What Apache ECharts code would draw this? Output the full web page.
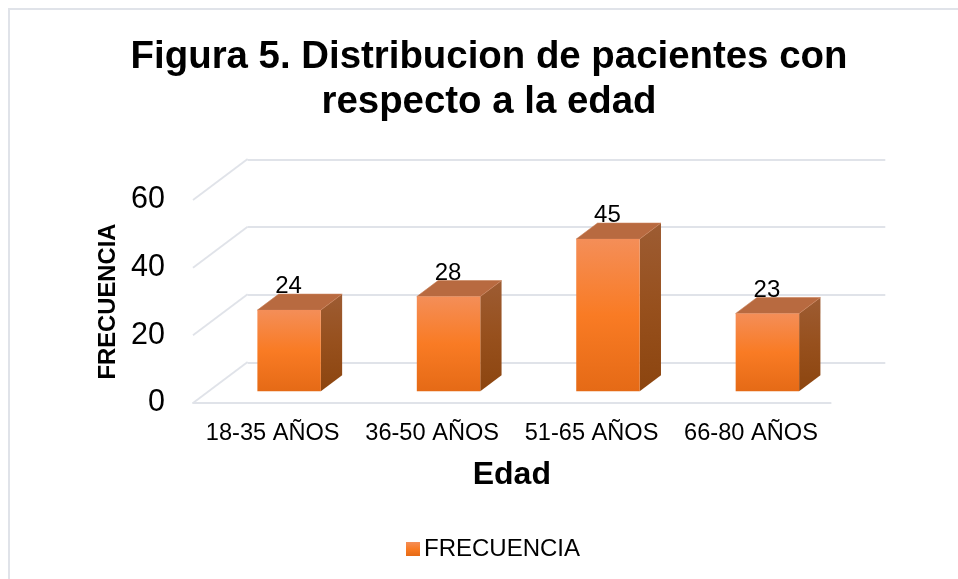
<!DOCTYPE html>
<html>
<head>
<meta charset="utf-8">
<style>
  html, body { margin: 0; padding: 0; background: #fff; }
  #chart { width: 958px; height: 579px; }
</style>
<script src="https://cdn.jsdelivr.net/npm/echarts@6/dist/echarts.min.js"></script>
</head>
<body>
<div id="chart"></div>
<script>
const categories = ['18-35 AÑOS', '36-50 AÑOS', '51-65 AÑOS', '66-80 AÑOS']
const frecuencia = [24, 28, 45, 23]
const yTicks = [0, 20, 40, 60]

const FONT = '"Liberation Sans", Arial, sans-serif'
const GRID_COLOR = '#e0e3e9'
// desplazamiento del fondo 3D y de la base de las barras
const WALL_DX = 54.6
const WALL_DY = 41
const FLOOR_DX = 16.4
const FLOOR_DY = 11.7
const BAR_DX = 21.3
const BAR_DY = 16
const BAR_RATIO = 0.398

const vGrad = (stops) => new echarts.graphic.LinearGradient(0, 0, 0, 1,
  stops.map(([offset, color]) => ({ offset, color })))

const frontFill = () => vGrad([[0, '#f48e58'], [0.5, '#f97b24'], [1, '#e56a16']])

const renderWall = (params, api) => {
  const y = api.coord([0, api.value(1)])[1]
  const x = params.coordSys.x
  return {
    type: 'line',
    shape: { x1: x, y1: y, x2: x + WALL_DX, y2: y - WALL_DY },
    style: { stroke: GRID_COLOR, lineWidth: 1.8 }
  }
}

const renderBar = (params, api) => {
  const i = api.value(0)
  const top = api.coord([i, api.value(1)])
  const base = api.coord([i, 0])
  const w = api.size([1, 0])[0] * BAR_RATIO
  const x0 = top[0] + FLOOR_DX - w / 2
  const x1 = x0 + w
  const yT = top[1] - FLOOR_DY
  const yB = base[1] - FLOOR_DY
  return {
    type: 'group',
    children: [
      {
        type: 'polygon',
        shape: { points: [[x1, yT], [x1 + BAR_DX, yT - BAR_DY], [x1 + BAR_DX, yB - BAR_DY], [x1, yB]] },
        style: { fill: vGrad([[0, '#9d5c33'], [0.5, '#97501d'], [1, '#8c450f']]) }
      },
      {
        type: 'polygon',
        shape: { points: [[x0, yT], [x0 + BAR_DX, yT - BAR_DY], [x1 + BAR_DX, yT - BAR_DY], [x1, yT]] },
        style: { fill: '#b86a40', stroke: '#c98058', lineWidth: 0.6 }
      },
      {
        type: 'rect',
        shape: { x: x0, y: yT, width: w, height: yB - yT },
        style: { fill: frontFill() }
      },
      {
        type: 'text',
        x: (x0 + x1) / 2 - 0.5,
        y: yT - BAR_DY - 7.5,
        z2: 10,
        style: {
          text: String(api.value(1)),
          fill: '#000',
          font: '24px ' + FONT,
          align: 'center',
          verticalAlign: 'middle'
        }
      }
    ]
  }
}

const chart = echarts.init(document.getElementById('chart'), null, { renderer: 'canvas' })

chart.setOption({
  animation: false,
  backgroundColor: '#fff',
  title: {
    text: 'Figura 5. Distribucion de pacientes con\nrespecto a la edad',
    left: 484,
    top: 30,
    textAlign: 'center',
    textStyle: { fontFamily: FONT, fontSize: 38.4, fontWeight: 'bold', color: '#000', lineHeight: 45 }
  },
  legend: {
    data: ['FRECUENCIA'],
    left: 401,
    top: 532,
    icon: 'rect',
    itemWidth: 14,
    itemHeight: 14,
    textStyle: { fontFamily: FONT, fontSize: 24, color: '#000', padding: [0, 0, 0, -1] }
  },
  grid: [
    { left: 193, top: 200, width: 637.7, height: 203 },
    { left: 247.6, top: 159.5, width: 637.7, height: 203 }
  ],
  xAxis: [
    {
      type: 'category',
      gridIndex: 0,
      data: categories,
      name: 'Edad',
      nameLocation: 'middle',
      nameGap: 56,
      nameTextStyle: { fontFamily: FONT, fontSize: 32, fontWeight: 'bold', color: '#000' },
      axisLine: { lineStyle: { color: GRID_COLOR, width: 1.8 } },
      axisTick: { show: false },
      axisLabel: { fontFamily: FONT, fontSize: 23.6, color: '#000', margin: 18, interval: 0 }
    },
    { type: 'category', gridIndex: 1, data: categories, show: false }
  ],
  yAxis: [
    {
      type: 'value',
      gridIndex: 0,
      min: 0,
      max: 60,
      interval: 20,
      name: 'FRECUENCIA',
      nameLocation: 'middle',
      nameGap: 73,
      nameTextStyle: { fontFamily: FONT, fontSize: 23.8, fontWeight: 'bold', color: '#000' },
      axisLine: { show: false },
      axisTick: { show: false },
      splitLine: { show: false },
      axisLabel: { fontFamily: FONT, fontSize: 30.5, color: '#000', margin: 28, padding: [4, 0, 0, 0] }
    },
    {
      type: 'value',
      gridIndex: 1,
      min: 0,
      max: 60,
      interval: 20,
      axisLine: { show: false },
      axisTick: { show: false },
      axisLabel: { show: false },
      splitLine: { lineStyle: { color: GRID_COLOR, width: 1.8 } }
    }
  ],
  // borde del marco original: solo arriba y a la izquierda
  graphic: [
    {
      type: 'polyline',
      silent: true,
      shape: { points: [[9, 579], [9, 9], [958, 9]] },
      style: { stroke: GRID_COLOR, lineWidth: 2, fill: 'none' }
    }
  ],
  series: [
    {
      name: 'paredes',
      type: 'custom',
      xAxisIndex: 0,
      yAxisIndex: 0,
      silent: true,
      z: 1,
      renderItem: renderWall,
      data: yTicks.map(v => [0, v]),
      encode: { x: 0, y: 1 }
    },
    {
      name: 'FRECUENCIA',
      type: 'custom',
      xAxisIndex: 0,
      yAxisIndex: 0,
      z: 3,
      renderItem: renderBar,
      itemStyle: { color: frontFill() },
      data: frecuencia.map((v, i) => [i, v]),
      encode: { x: 0, y: 1 }
    }
  ]
})

window.addEventListener('resize', () => chart.resize())
</script>
</body>
</html>
